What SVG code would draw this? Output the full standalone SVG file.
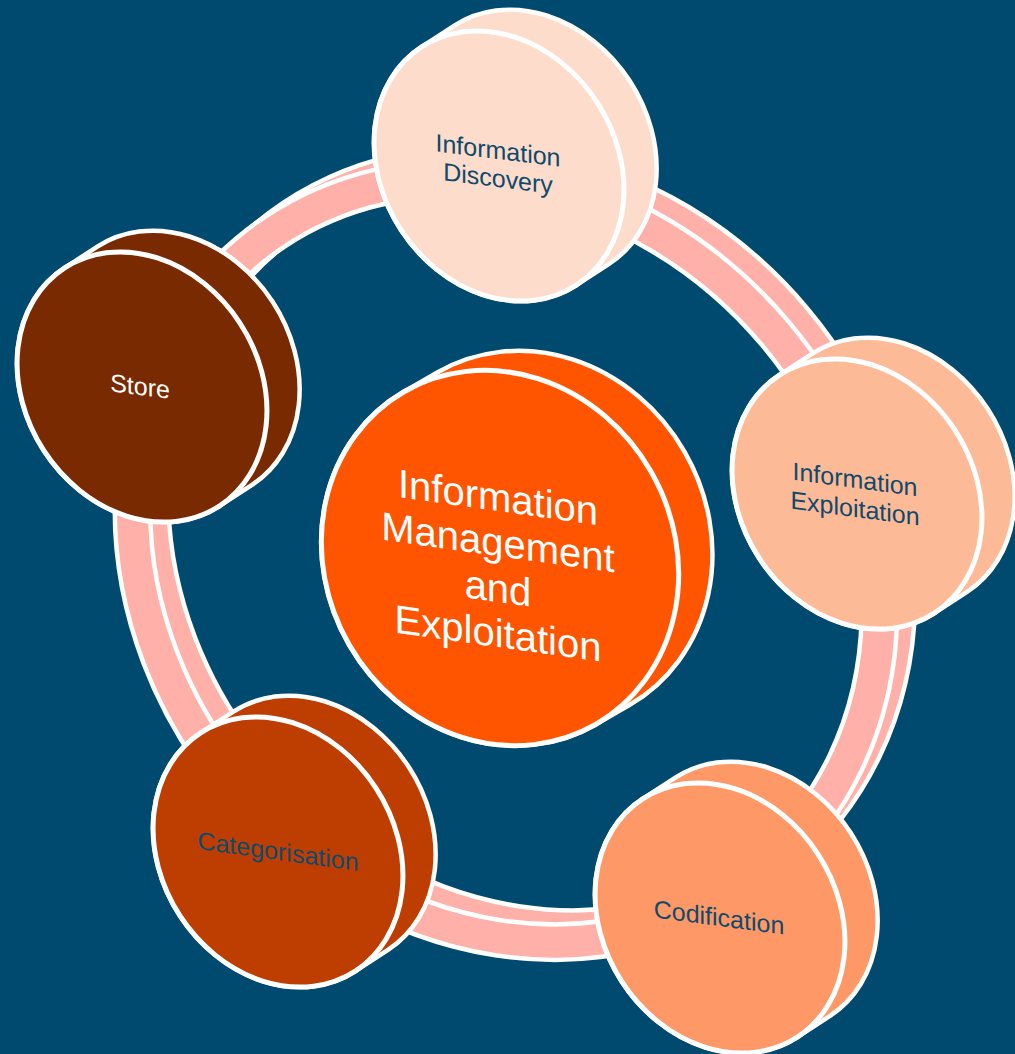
<svg xmlns="http://www.w3.org/2000/svg" xmlns:xlink="http://www.w3.org/1999/xlink" width="1015" height="1054" viewBox="0 0 1015 1054">
<style>
.ringw{fill:none;stroke:#ffffff;stroke-width:40}
.ringp{fill:none;stroke:#ffb0a8;stroke-width:31}
.lbl{font-family:"Liberation Sans",Arial,sans-serif;font-size:25px;text-anchor:middle}
.big{font-size:40px}
.dark{fill:#0f4a6c}
.light{fill:#ffffff}
</style>
<defs>
  <path id="hull" d="M0,-117 L39,-117 A117,117 0 0 1 39,117 L0,117 A117,117 0 0 1 0,-117 Z" stroke="#ffffff" stroke-width="4.5" vector-effect="non-scaling-stroke"/>
  <circle id="face" r="117" stroke="#ffffff" stroke-width="5" vector-effect="non-scaling-stroke"/>
  <path id="hullBig" d="M0,-174 L39,-174 A174,174 0 0 1 39,174 L0,174 A174,174 0 0 1 0,-174 Z" stroke="#ffffff" stroke-width="4.5" vector-effect="non-scaling-stroke"/>
  <circle id="faceBig" r="174" stroke="#ffffff" stroke-width="5" vector-effect="non-scaling-stroke"/>
</defs>
<rect width="1015" height="1054" fill="#004a6f"/>
<g id="connectors">
  <g id="ring-back" transform="translate(18,-14)">
    <ellipse class="ringw" cx="506" cy="560" rx="402" ry="352" transform="rotate(50 506 560)"/>
    <ellipse class="ringp" cx="506" cy="560" rx="402" ry="352" transform="rotate(50 506 560)"/>
  </g>
  <g id="ring-front">
    <ellipse class="ringw" cx="506" cy="560" rx="402" ry="352" transform="rotate(50 506 560)"/>
    <ellipse class="ringp" cx="506" cy="560" rx="402" ry="352" transform="rotate(50 506 560)"/>
  </g>
</g>
<g id="node-discovery">
  <g transform="translate(499,166) rotate(-33) scale(1,1.2137)" fill="#fddccb">
    <use xlink:href="#hull"/>
    <use xlink:href="#face"/>
  </g>
  <text class="lbl dark" transform="translate(498,0) skewY(7)"><tspan x="0" y="159">Information</tspan><tspan x="0" y="187">Discovery</tspan></text>
</g>
<g id="node-exploitation">
  <g transform="translate(857,494) rotate(-33) scale(1,1.2137)" fill="#fdba97">
    <use xlink:href="#hull"/>
    <use xlink:href="#face"/>
  </g>
  <text class="lbl dark" transform="translate(855,0) skewY(7.5)"><tspan x="0" y="488">Information</tspan><tspan x="0" y="517">Exploitation</tspan></text>
</g>
<g id="node-codification">
  <g transform="translate(720,918) rotate(-33) scale(1,1.2137)" fill="#fe9866">
    <use xlink:href="#hull"/>
    <use xlink:href="#face"/>
  </g>
  <text class="lbl dark" transform="translate(719,0) skewY(7.5)"><tspan x="0" y="926">Codification</tspan></text>
</g>
<g id="node-categorisation">
  <g transform="translate(278,852) rotate(-33) scale(1,1.2137)" fill="#bd3e00">
    <use xlink:href="#hull"/>
    <use xlink:href="#face"/>
  </g>
  <text class="lbl dark" transform="translate(278,0) skewY(7.8)"><tspan x="0" y="860">Categorisation</tspan></text>
</g>
<g id="node-store">
  <g transform="translate(142,387) rotate(-33) scale(1,1.2137)" fill="#7a2a00">
    <use xlink:href="#hull"/>
    <use xlink:href="#face"/>
  </g>
  <text class="lbl light" transform="translate(140,0) skewY(7)"><tspan x="0" y="395">Store</tspan></text>
</g>
<g id="node-center">
  <g transform="translate(500,558) rotate(-30) scale(1,1.1034)" fill="#ff5500">
    <use xlink:href="#hullBig"/>
    <use xlink:href="#faceBig"/>
  </g>
  <text class="lbl big light" transform="translate(498,0) skewY(8)"><tspan x="0" y="511">Information</tspan><tspan x="0" y="556">Management</tspan><tspan x="0" y="602">and</tspan><tspan x="0" y="647">Exploitation</tspan></text>
</g>
</svg>
